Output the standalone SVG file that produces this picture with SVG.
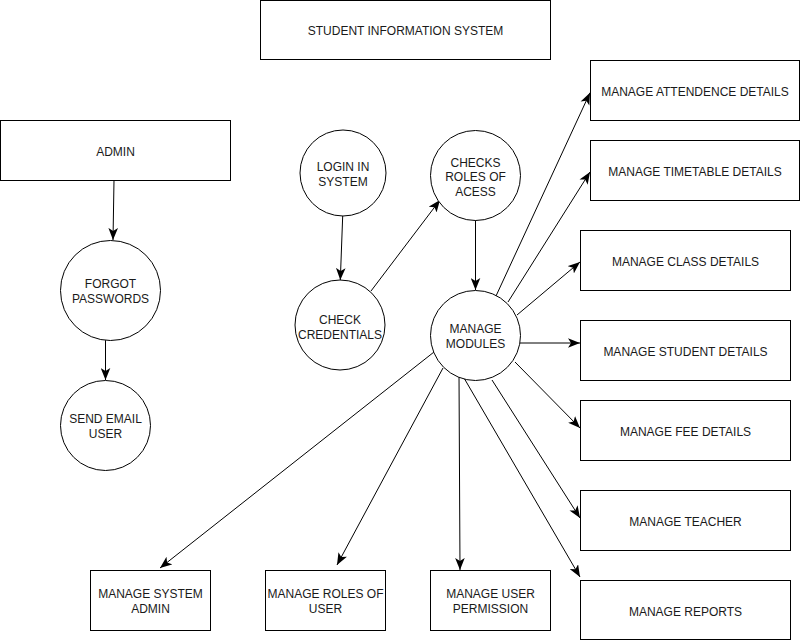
<svg xmlns="http://www.w3.org/2000/svg" width="801" height="641" viewBox="0 0 801 641">
  <style>
    .shape { fill: #ffffff; stroke: #000000; stroke-width: 1; }
    .lbl { font-family: "Liberation Sans", Arial, Helvetica, sans-serif; font-size: 12px; fill: #1a1a1a; text-anchor: middle; dominant-baseline: central; transform: translateY(1px); }
    .edge { fill: none; stroke: #000000; stroke-width: 1; marker-end: url(#arrow); }
  </style>
  <defs>
    <marker id="arrow" markerUnits="userSpaceOnUse" markerWidth="12" markerHeight="10" viewBox="0 0 10 8" refX="10" refY="4" orient="auto">
      <path d="M0,0 L10,4 L0,8 L2.5,4 Z" fill="#000000"/>
    </marker>
  </defs>

  <rect width="801" height="641" fill="#ffffff"/>

  <!-- connectors -->
  <g id="connectors">
    <line class="edge" x1="114" y1="180" x2="113" y2="240"/>
    <line class="edge" x1="105.5" y1="340" x2="105.5" y2="380"/>
    <line class="edge" x1="342.7" y1="216" x2="340.3" y2="280"/>
    <line class="edge" x1="371" y1="291" x2="440" y2="200"/>
    <line class="edge" x1="475.5" y1="220" x2="475.5" y2="290"/>
    <line class="edge" x1="496" y1="296" x2="590" y2="92.7"/>
    <line class="edge" x1="508" y1="302" x2="590" y2="172"/>
    <line class="edge" x1="517" y1="315" x2="580" y2="262"/>
    <line class="edge" x1="520" y1="343" x2="580" y2="343"/>
    <line class="edge" x1="515" y1="362" x2="580" y2="428"/>
    <line class="edge" x1="492" y1="380" x2="580" y2="518"/>
    <line class="edge" x1="464" y1="378" x2="580" y2="577"/>
    <line class="edge" x1="434" y1="352" x2="160" y2="568"/>
    <line class="edge" x1="443" y1="368" x2="337" y2="565"/>
    <line class="edge" x1="459" y1="374" x2="460" y2="570"/>
  </g>

  <!-- header -->
  <g id="title">
    <rect class="shape" x="260.5" y="0.5" width="290" height="59"/>
    <text class="lbl" x="405.5" y="30">STUDENT INFORMATION SYSTEM</text>
  </g>

  <!-- left branch -->
  <g id="admin">
    <rect class="shape" x="0.5" y="120.5" width="230" height="60"/>
    <text class="lbl" x="115.5" y="150.5">ADMIN</text>
  </g>
  <g id="forgot-passwords">
    <circle class="shape" cx="110.5" cy="290.5" r="50"/>
    <text class="lbl" x="110.5" y="283">FORGOT</text>
    <text class="lbl" x="110.5" y="298">PASSWORDS</text>
  </g>
  <g id="send-email-user">
    <circle class="shape" cx="105.5" cy="425.5" r="45"/>
    <text class="lbl" x="105.5" y="418">SEND EMAIL</text>
    <text class="lbl" x="105.5" y="433">USER</text>
  </g>

  <!-- process circles -->
  <g id="login-in-system">
    <circle class="shape" cx="343" cy="173" r="43"/>
    <text class="lbl" x="343" y="166">LOGIN IN</text>
    <text class="lbl" x="343" y="181">SYSTEM</text>
  </g>
  <g id="check-credentials">
    <circle class="shape" cx="340" cy="325" r="45"/>
    <text class="lbl" x="340" y="318.5">CHECK</text>
    <text class="lbl" x="340" y="333.5">CREDENTIALS</text>
  </g>
  <g id="checks-roles-of-acess">
    <circle class="shape" cx="475.5" cy="175.5" r="45"/>
    <text class="lbl" x="475.5" y="161.5">CHECKS</text>
    <text class="lbl" x="475.5" y="176">ROLES OF</text>
    <text class="lbl" x="475.5" y="190.5">ACESS</text>
  </g>
  <g id="manage-modules">
    <circle class="shape" cx="475.5" cy="335.5" r="45"/>
    <text class="lbl" x="475.5" y="328">MANAGE</text>
    <text class="lbl" x="475.5" y="343">MODULES</text>
  </g>

  <!-- right-hand modules -->
  <g id="manage-attendence-details">
    <rect class="shape" x="590.5" y="60.5" width="209" height="60"/>
    <text class="lbl" x="695" y="90.5">MANAGE ATTENDENCE DETAILS</text>
  </g>
  <g id="manage-timetable-details">
    <rect class="shape" x="590.5" y="140.5" width="209" height="60"/>
    <text class="lbl" x="695" y="170.5">MANAGE TIMETABLE DETAILS</text>
  </g>
  <g id="manage-class-details">
    <rect class="shape" x="580.5" y="230.5" width="210" height="60"/>
    <text class="lbl" x="685.5" y="260.5">MANAGE CLASS DETAILS</text>
  </g>
  <g id="manage-student-details">
    <rect class="shape" x="580.5" y="320.5" width="210" height="60"/>
    <text class="lbl" x="685.5" y="350.5">MANAGE STUDENT DETAILS</text>
  </g>
  <g id="manage-fee-details">
    <rect class="shape" x="580.5" y="400.5" width="210" height="60"/>
    <text class="lbl" x="685.5" y="430.5">MANAGE FEE DETAILS</text>
  </g>
  <g id="manage-teacher">
    <rect class="shape" x="580.5" y="490.5" width="210" height="60"/>
    <text class="lbl" x="685.5" y="520.5">MANAGE TEACHER</text>
  </g>
  <g id="manage-reports">
    <rect class="shape" x="580.5" y="580.5" width="210" height="59"/>
    <text class="lbl" x="685.5" y="610.5">MANAGE REPORTS</text>
  </g>

  <!-- bottom modules -->
  <g id="manage-system-admin">
    <rect class="shape" x="90.5" y="570.5" width="120" height="60"/>
    <text class="lbl" x="150.5" y="593">MANAGE SYSTEM</text>
    <text class="lbl" x="150.5" y="608">ADMIN</text>
  </g>
  <g id="manage-roles-of-user">
    <rect class="shape" x="265.5" y="570.5" width="120" height="60"/>
    <text class="lbl" x="325.5" y="593">MANAGE ROLES OF</text>
    <text class="lbl" x="325.5" y="608">USER</text>
  </g>
  <g id="manage-user-permission">
    <rect class="shape" x="430.5" y="570.5" width="120" height="60"/>
    <text class="lbl" x="490.5" y="593">MANAGE USER</text>
    <text class="lbl" x="490.5" y="608">PERMISSION</text>
  </g>
</svg>
